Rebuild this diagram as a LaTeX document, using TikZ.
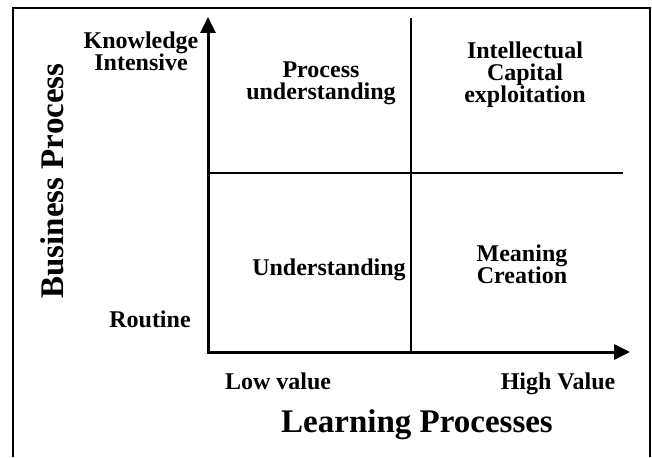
\documentclass[tikz,border=0pt]{standalone}
\usepackage{fontspec}
\setmainfont{Liberation Serif}
\usetikzlibrary{arrows.meta,positioning}

\begin{document}
\begin{tikzpicture}[x=1pt,y=-1pt,>={Triangle[length=16pt,width=15pt]},
	lbl/.style={font=\bfseries\fontsize{24}{22}\selectfont,align=center,inner sep=0pt,anchor=base},
	big/.style={font=\bfseries\fontsize{33}{36}\selectfont,inner sep=0pt,anchor=base}]
		\useasboundingbox (0,0) rectangle (652,457);
		\draw[line width=2pt] (13,457) -- (13,8) -- (650,8) -- (650,457);

		\coordinate (O) at (208,352); \coordinate (ytop) at (208,17); \coordinate (xend) at (630,352);
		\coordinate (vtop) at (411,18); \coordinate (vbot) at (411,352); \coordinate (hl) at (208,173); \coordinate (hr) at (623,173);
		\draw[line width=1.3pt] (vtop) -- (vbot); \draw[line width=1.3pt] (hl) -- (hr);
		\draw[line width=3pt,<->] (ytop) -- (O) -- (xend);

		\node[lbl] (ki) at (141,71) {Knowledge\\Intensive}; \node[lbl] (rt) at (150,327) {Routine};
		\node[lbl] (pu) at (321,100) {Process\\understanding}; \node[lbl] (un) at (329,275) {Understanding};
		\node[lbl] (ic) at (525,103) {Intellectual\\Capital\\exploitation}; \node[lbl] (mc) at (522,283) {Meaning\\Creation};
		\node[lbl] (lv) at (278,389) {Low value}; \node[lbl] (hv) at (558,389) {High Value};
		\node[big] (lp) at (417,432) {Learning Processes}; \node[big,rotate=90] (bp) at (63,181) {Business Process};
\end{tikzpicture}
\end{document}
